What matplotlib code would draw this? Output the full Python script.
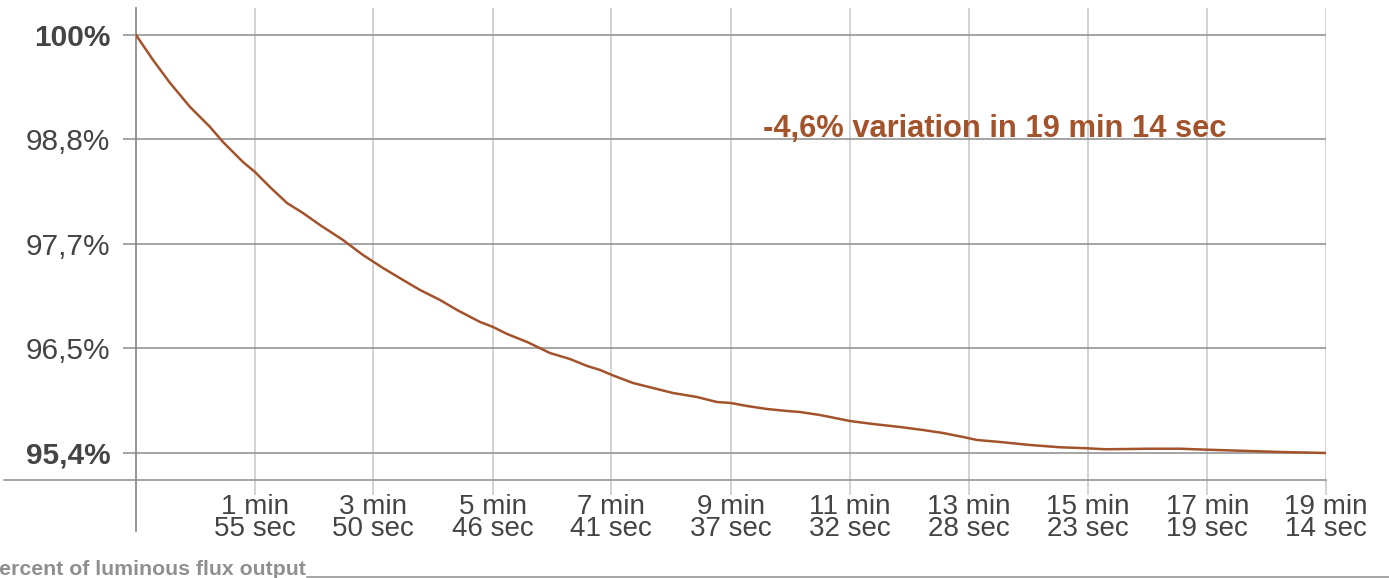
import matplotlib
matplotlib.use("Agg")
import matplotlib.pyplot as plt

plt.rcParams["font.family"] = ["Liberation Sans", "DejaVu Sans"]

# seconds since start, luminous flux output in percent
seconds = [0, 16.5, 33.0, 52.4, 71.8, 84.4, 103.8, 115.4, 129.9, 146.4, 161.9,
           178.4, 200.7, 220.1, 239.5, 258.9, 275.4, 294.8, 311.3, 333.6, 346.2,
           359.8, 379.2, 401.5, 420.9, 437.4, 450.0, 461.6, 482.0, 501.4, 520.8,
           544.0, 563.4, 577.0, 592.5, 611.9, 631.3, 643.9, 663.3, 692.4, 714.7,
           740.9, 763.2, 782.6, 802.0, 815.6, 837.9, 866.9, 896.0, 922.2, 939.7,
           963.9, 983.3, 1012.4, 1038.6, 1070.6, 1109.4, 1154.0]
flux = [100.0, 99.725, 99.472, 99.208, 98.988, 98.822, 98.602, 98.492, 98.327,
        98.151, 98.041, 97.909, 97.744, 97.579, 97.436, 97.304, 97.194, 97.084,
        96.974, 96.842, 96.787, 96.710, 96.622, 96.500, 96.434, 96.358, 96.314,
        96.258, 96.170, 96.115, 96.060, 96.016, 95.961, 95.950, 95.917, 95.884,
        95.862, 95.851, 95.818, 95.752, 95.719, 95.686, 95.653, 95.620, 95.576,
        95.543, 95.521, 95.488, 95.463, 95.452, 95.441, 95.444, 95.447, 95.447,
        95.436, 95.425, 95.411, 95.400]

x_ticks = [115, 230, 346, 461, 577, 692, 808, 923, 1039, 1154]
x_labels = ["1 min\n55 sec", "3 min\n50 sec", "5 min\n46 sec", "7 min\n41 sec",
            "9 min\n37 sec", "11 min\n32 sec", "13 min\n28 sec", "15 min\n23 sec",
            "17 min\n19 sec", "19 min\n14 sec"]
y_ticks = [95.4, 96.55, 97.7, 98.85, 100.0]
y_labels = ["95,4%", "96,5%", "97,7%", "98,8%", "100%"]
bold_labels = ["95,4%", "100%"]

annotation = "-4,6% variation in 19 min 14 sec"
caption = "Percent of luminous flux output"

line_color = "#a3532c"
dark_grey = "#8c8c8c"
light_grey = "#c8c8c8"

fig = plt.figure(figsize=(13.89, 5.78), dpi=100)
ax = fig.add_axes([0.0979, 0.1696, 0.8567, 0.8166])

ax.set_xlim(0, 1154)
ax.set_ylim(95.103, 100.297)
for spine in ax.spines.values():
    spine.set_visible(False)

ax.set_xticks(x_ticks)
ax.set_xticklabels(x_labels, fontsize=20, color="#444444", linespacing=0.83)
ax.tick_params(axis="x", length=10.8, width=1.1, color=light_grey, pad=-1)
ax.grid(axis="x", color=light_grey, lw=1.1)

ax.set_yticks(y_ticks)
ax.set_yticklabels(y_labels, fontsize=21.5, color="#444444")
for lab in ax.get_yticklabels():
    if lab.get_text() in bold_labels:
        lab.set_fontweight("bold")
ax.tick_params(axis="y", length=9.4, width=1.1, color=dark_grey, pad=9)
ax.grid(axis="y", color=dark_grey, lw=1.1)
ax.set_axisbelow(True)

# baseline and the zero-time vertical
ax.plot([-0.111, 1], [0, 0], transform=ax.transAxes, color=dark_grey,
        lw=1.1, clip_on=False)
ax.plot([0, 0], [-0.108, 1], transform=ax.transAxes, color=dark_grey,
        lw=1.3, clip_on=False)

ax.plot(seconds, flux, color=line_color, lw=1.8, zorder=3)

ax.text(833, 98.877, annotation, ha="center", va="baseline", fontsize=22.2,
        fontweight="bold", color=line_color)

fig.text(-0.0105, 0.005, caption, ha="left", va="baseline", fontsize=15.3,
         fontweight="bold", color="#8f8f8f")
fig.add_artist(plt.Line2D([0.221, 1], [0.002, 0.002], color=dark_grey, lw=1.1))

fig.savefig("out.png", dpi=100)
